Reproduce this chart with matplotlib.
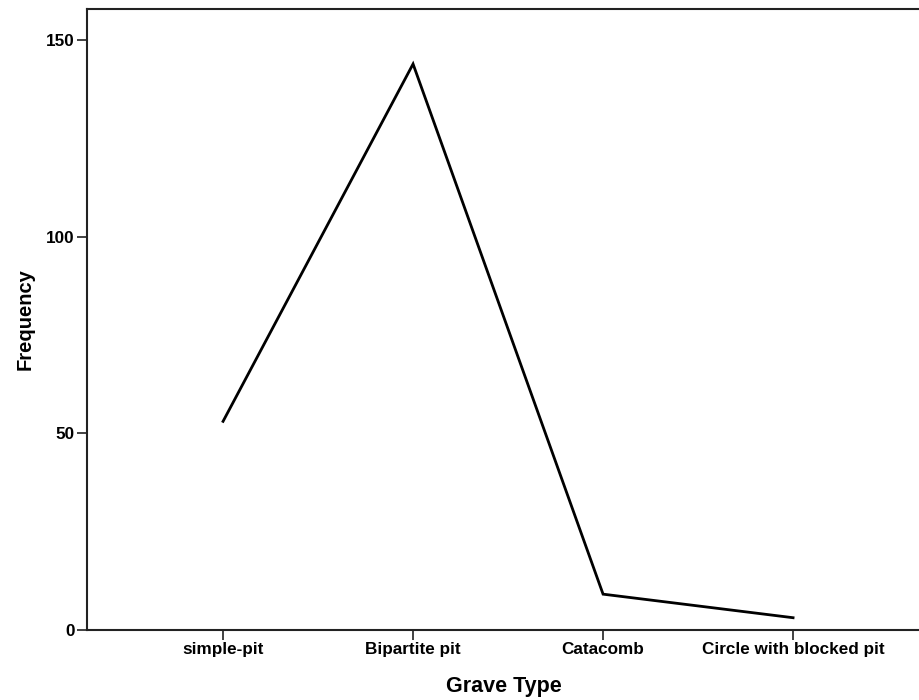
import matplotlib
matplotlib.use("Agg")
import matplotlib.pyplot as plt

categories = ["simple-pit", "Bipartite pit", "Catacomb", "Circle with blocked pit"]
frequency = [53, 144, 9, 3]
yticks = [0, 50, 100, 150]

plt.rcParams['font.family'] = ['Liberation Sans', 'DejaVu Sans']

fig = plt.figure(figsize=(9.2, 7), dpi=100)
ax = fig.add_axes([87/920, 70.5/700, 1 - 87/920, 620.5/700])
x = list(range(len(categories)))
ax.plot(x, frequency, color="black", linewidth=2.0, solid_joinstyle="miter")
ax.set_xlim(-0.716, 3.668)
ax.set_ylim(0, 158)
ax.set_xticks(x)
ax.set_xticklabels(categories, fontsize=12.3, fontweight="bold")
ax.set_yticks(yticks)
ax.set_yticklabels([str(v) for v in yticks], fontsize=12.3, fontweight="bold")
ax.tick_params(axis="both", length=7, width=1.3, color="#333333", pad=2)
for s in ["left", "bottom", "top"]:
    ax.spines[s].set_linewidth(1.5)
    ax.spines[s].set_color("#222222")
ax.spines["right"].set_visible(False)
ax.set_xlabel("Grave Type", fontsize=15.5, fontweight="bold", labelpad=14)
ax.set_ylabel("Frequency", fontsize=14.5, fontweight="bold", labelpad=8)
fig.savefig("out.png", dpi=100)
